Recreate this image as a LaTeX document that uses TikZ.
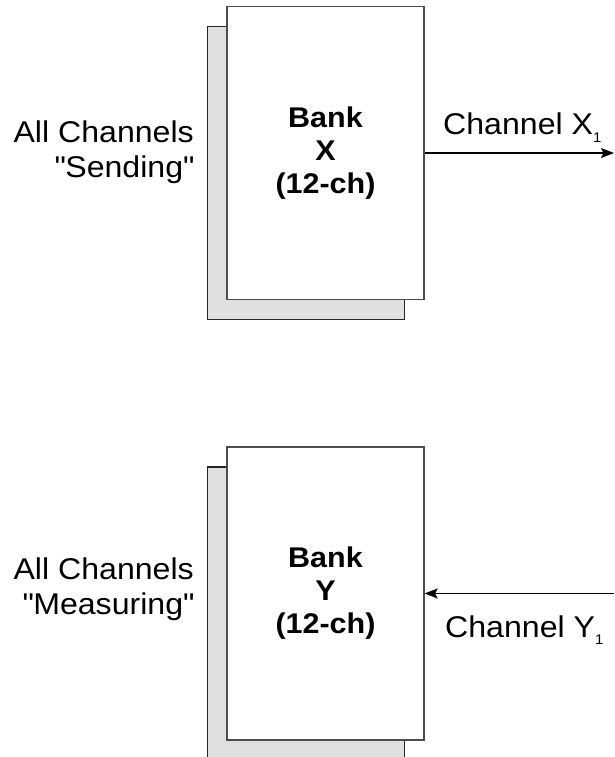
\documentclass[tikz,border=0pt]{standalone}
\usepackage{fontspec}
\setmainfont{Liberation Sans}[FakeStretch=1.07]
\usetikzlibrary{arrows.meta,positioning}

% small lowered index after a channel letter
\newcommand\lowsub[1]{\raisebox{-0.24em}{\fontsize{14}{14}\selectfont #1}}

\begin{document}
\begin{tikzpicture}[
    x=1pt, y=-1pt,
    shade/.style={draw=black!85, fill=black!12, line width=1.2pt, minimum width=197pt, minimum height=293pt, inner sep=0pt},
    bank/.style={draw=black!70, fill=white, line width=1.2pt, minimum width=197pt, minimum height=293pt, inner sep=0pt, align=center, font=\fontsize{28.5}{33}\selectfont\bfseries},
    lbl/.style={font=\fontsize{30}{35}\selectfont, inner sep=0pt},
    arrow/.style={line width=1.3pt, -{Stealth[length=13pt,width=10pt,inset=2.5pt]}}
]
    \useasboundingbox (0,0) rectangle (614,757);
    \clip (0,0) rectangle (614,757);

    % sending bank
    \node (xshadow) [shade] at (306,173) {};
    \node (xbank) [bank] at (325.5,153) {Bank\\X\\(12-ch)};
    \node (xsend) [lbl, align=right, anchor=east] at (194,152) {All Channels\\\textquotedbl Sending\textquotedbl};
    \coordinate (xout) at (614,153);
    \draw [arrow] (xbank.east) -- (xout);
    \node (xchan) [lbl, anchor=base west] at (443,135) {Channel X\lowsub{1}};

    % measuring bank
    \node (yshadow) [shade] at (306,613.5) {};
    \node (ybank) [bank] at (325.5,593.5) {Bank\\Y\\(12-ch)};
    \node (ymeas) [lbl, align=right, anchor=east] at (194,589) {All Channels\\\textquotedbl Measuring\textquotedbl};
    \coordinate (yin) at (614,593.5);
    \draw [arrow] (yin) -- (ybank.east);
    \node (ychan) [lbl, anchor=base west] at (445,637) {Channel Y\lowsub{1}};
\end{tikzpicture}
\end{document}
